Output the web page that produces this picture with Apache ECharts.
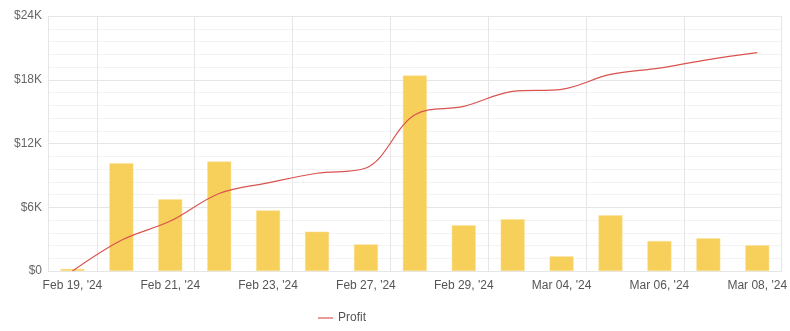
<!DOCTYPE html>
<html>
<head>
<meta charset="utf-8">
<script src="https://cdn.jsdelivr.net/npm/echarts@6/dist/echarts.min.js"></script>
<style>html,body{margin:0;padding:0;background:#fff}#c{width:790px;height:331px}</style>
</head>
<body>
<div id="c"></div>
<script>
const categories = ["Feb 19, '24","Feb 20, '24","Feb 21, '24","Feb 22, '24","Feb 23, '24","Feb 26, '24","Feb 27, '24","Feb 28, '24","Feb 29, '24","Mar 01, '24","Mar 04, '24","Mar 05, '24","Mar 06, '24","Mar 07, '24","Mar 08, '24"];
const dailyValues = [200, 10150, 6750, 10300, 5700, 3700, 2500, 18400, 4300, 4870, 1380, 5240, 2820, 3080, 2420];
const profitValues = [0, 2900, 4700, 7300, 8300, 9200, 9700, 14700, 15500, 16900, 17100, 18500, 19100, 19900, 20550];
const yTicks = [0, 6000, 12000, 18000, 24000];

const chart = echarts.init(document.getElementById('c'), null, {renderer: 'canvas'});
const font = 'Liberation Sans, Arial, sans-serif';
chart.setOption({
  animation: false,
  textStyle: {fontFamily: font},
  grid: {left: 48, right: 6, top: 16, bottom: 60, containLabel: false},
  legend: {
    bottom: 2, left: 313,
    itemWidth: 15, itemHeight: 2, itemGap: 10,
    textStyle: {color: '#555', fontSize: 12, fontFamily: font},
    data: [{name: 'Profit', icon: 'rect', itemStyle: {color: '#e89c9a'}}]
  },
  xAxis: {
    type: 'category',
    data: categories,
    boundaryGap: true,
    axisLine: {show: false},
    axisTick: {show: false},
    axisLabel: {color: '#555', fontSize: 12, margin: 9, interval: 1, fontFamily: font},
    splitLine: {show: true, interval: function (i) { return i === 0 || i % 2 === 1; }, lineStyle: {color: '#e6e6e6', width: 1}}
  },
  yAxis: {
    type: 'value',
    min: yTicks[0], max: yTicks[yTicks.length - 1], interval: 6000,
    axisLine: {show: false},
    axisTick: {show: false},
    axisLabel: {color: '#666', fontSize: 12, margin: 6, fontFamily: font,
      formatter: function (v) { return v === 0 ? '$0' : '$' + (v / 1000) + 'K'; }},
    splitLine: {show: true, lineStyle: {color: '#e6e6e6', width: 1}},
    minorTick: {show: false, splitNumber: 5},
    minorSplitLine: {show: true, lineStyle: {color: '#f3f3f3', width: 1}}
  },
  series: [
    {
      name: 'Daily', type: 'bar', data: dailyValues,
      barWidth: 24,
      itemStyle: {color: '#f7cf5b', borderColor: '#fbe39a', borderWidth: 0.5},
      z: 2
    },
    {
      name: 'Profit', type: 'line', data: profitValues,
      smooth: 0.35, showSymbol: false, symbol: 'none',
      lineStyle: {color: '#d9534f', width: 1.2},
      itemStyle: {color: '#d9534f'},
      z: 3
    }
  ]
});
</script>
</body>
</html>
